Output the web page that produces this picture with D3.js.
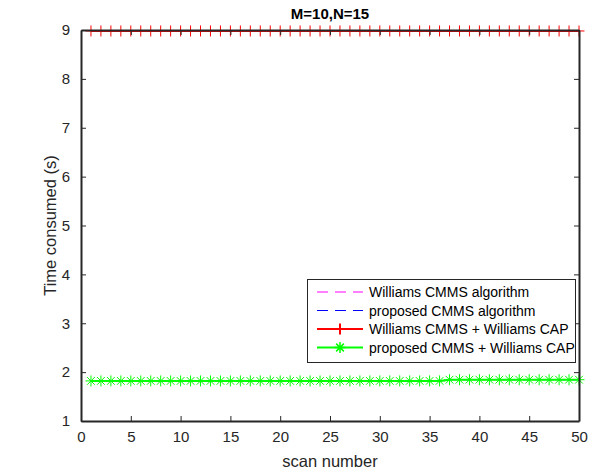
<!DOCTYPE html>
<html>
<head>
<meta charset="utf-8">
<script src="https://cdn.jsdelivr.net/npm/d3@7"></script>
<style>
  body { margin: 0; background: #fff; }
  text { font-family: Arial, "Liberation Sans", Helvetica, sans-serif; fill: #262626; }
</style>
</head>
<body>
<div id="chart"></div>
<script>
// chart values
const scans = d3.range(1, 51)
const williamsAlg = [8.98,8.98,8.98,8.98,8.98,8.98,8.98,8.98,8.98,8.98,
  8.98,8.98,8.98,8.98,8.98,8.98,8.98,8.98,8.98,8.98,
  8.98,8.98,8.98,8.98,8.98,8.98,8.98,8.98,8.98,8.98,
  8.98,8.98,8.98,8.98,8.98,8.98,8.98,8.98,8.98,8.98,
  8.98,8.98,8.98,8.98,8.98,8.98,8.98,8.98,8.98,8.98]
const proposedAlg = [1.82,1.82,1.82,1.82,1.82,1.82,1.82,1.82,1.82,1.82,
  1.82,1.82,1.82,1.82,1.82,1.82,1.82,1.82,1.82,1.82,
  1.82,1.82,1.82,1.82,1.82,1.82,1.82,1.82,1.82,1.82,
  1.82,1.82,1.82,1.82,1.82,1.82,1.845,1.845,1.845,1.845,
  1.845,1.845,1.845,1.845,1.845,1.845,1.845,1.845,1.845,1.845]
const williamsCap = [8.98,8.98,8.98,8.98,8.98,8.98,8.98,8.98,8.98,8.98,
  8.98,8.98,8.98,8.98,8.98,8.98,8.98,8.98,8.98,8.98,
  8.98,8.98,8.98,8.98,8.98,8.98,8.98,8.98,8.98,8.98,
  8.98,8.98,8.98,8.98,8.98,8.98,8.98,8.98,8.98,8.98,
  8.98,8.98,8.98,8.98,8.98,8.98,8.98,8.98,8.98,8.98]
const proposedCap = [1.82,1.82,1.82,1.82,1.82,1.82,1.82,1.82,1.82,1.82,
  1.82,1.82,1.82,1.82,1.82,1.82,1.82,1.82,1.82,1.82,
  1.82,1.82,1.82,1.82,1.82,1.82,1.82,1.82,1.82,1.82,
  1.82,1.82,1.82,1.82,1.82,1.82,1.845,1.845,1.845,1.845,
  1.845,1.845,1.845,1.845,1.845,1.845,1.845,1.845,1.845,1.845]
const xTicks = [0,5,10,15,20,25,30,35,40,45,50]
const yTicks = [1,2,3,4,5,6,7,8,9]
const legendNames = ["Williams CMMS algorithm", "proposed CMMS algorithm",
  "Williams CMMS + Williams CAP", "proposed CMMS + Williams CAP"]

const width = 596
const height = 472
const margin = {left: 81, right: 17, top: 30, bottom: 51}
const axisColor = "#262626"

const svg = d3.select("#chart")
  .append("svg")
    .attr("width", width)
    .attr("height", height)

const x = d3.scaleLinear().domain([0, 50]).range([margin.left, width - margin.right])
const y = d3.scaleLinear().domain([1, 9]).range([height - margin.bottom, margin.top])

const series = [
  {name: legendNames[0], values: williamsAlg, color: "#ff00ff", dash: "6,6", width: 1, marker: null},
  {name: legendNames[1], values: proposedAlg, color: "#0000ff", dash: "6,6", width: 1, marker: null},
  {name: legendNames[2], values: williamsCap, color: "#ff0000", dash: null, width: 2, marker: "plus"},
  {name: legendNames[3], values: proposedCap, color: "#00ff00", dash: null, width: 2, marker: "star"}
]

// marker paths centred at 0,0
function markerPath(type, s) {
  if (type === "plus") return `M${-s},0H${s}M0,${-s}V${s}`
  const d = s * 0.7
  return `M${-s},0H${s}M0,${-s}V${s}M${-d},${-d}L${d},${d}M${-d},${d}L${d},${-d}`
}

svg.append("clipPath").attr("id", "clip")
  .append("rect")
    .attr("x", margin.left).attr("y", margin.top - 8)
    .attr("width", x(50) - x(0) + 8).attr("height", y(1) - y(9) + 8)

const plot = svg.append("g").attr("clip-path", "url(#clip)")

const line = d3.line().x(d => x(d[0])).y(d => y(d[1]))

series.forEach(s => {
  const pts = scans.map((k, i) => [k, s.values[i]])
  plot.append("path")
    .datum(pts)
    .attr("d", line)
    .attr("fill", "none")
    .attr("stroke", s.color)
    .attr("stroke-width", s.width)
    .attr("stroke-dasharray", s.dash)
  if (s.marker) {
    plot.append("g").selectAll("path")
      .data(pts)
      .join("path")
        .attr("transform", d => `translate(${x(d[0])},${y(d[1])})`)
        .attr("d", markerPath(s.marker, 5.5))
        .attr("fill", "none")
        .attr("stroke", s.color)
        .attr("stroke-width", 1)
  }
})

// axes, MATLAB style: ticks inside, mirrored on top and right
const tickLen = 5
const axBottom = svg.append("g")
  .attr("transform", `translate(0,${y(1)})`)
  .call(d3.axisBottom(x).tickValues(xTicks).tickSizeInner(-tickLen).tickSizeOuter(0).tickPadding(10))
const axLeft = svg.append("g")
  .attr("transform", `translate(${x(0)},0)`)
  .call(d3.axisLeft(y).tickValues(yTicks).tickSizeInner(-tickLen).tickSizeOuter(0).tickPadding(11))
const axTop = svg.append("g")
  .attr("transform", `translate(0,${y(9)})`)
  .call(d3.axisTop(x).tickValues(xTicks).tickSizeInner(-tickLen).tickSizeOuter(0).tickFormat(""))
const axRight = svg.append("g")
  .attr("transform", `translate(${x(50)},0)`)
  .call(d3.axisRight(y).tickValues(yTicks).tickSizeInner(-tickLen).tickSizeOuter(0).tickFormat(""))

;[axBottom, axLeft, axTop, axRight].forEach(g => {
  g.select(".domain").attr("stroke", axisColor).attr("stroke-width", 2)
  g.selectAll(".tick line").attr("stroke", axisColor).attr("stroke-width", 1)
  g.selectAll(".tick text").attr("fill", axisColor).style("font-size", "15px")
    .style("font-family", "Arial, 'Liberation Sans', sans-serif")
})

// title and labels
svg.append("text")
  .attr("x", (x(0) + x(50)) / 2).attr("y", 19)
  .attr("text-anchor", "middle")
  .style("font-size", "15px").style("font-weight", "bold")
  .style("fill", "#000")
  .text("M=10,N=15")

svg.append("text")
  .attr("x", (x(0) + x(50)) / 2).attr("y", 467)
  .attr("text-anchor", "middle")
  .style("font-size", "16.5px")
  .text("scan number")

svg.append("text")
  .attr("transform", `translate(56,${(y(1) + y(9)) / 2}) rotate(-90)`)
  .attr("text-anchor", "middle")
  .style("font-size", "16.5px")
  .text("Time consumed (s)")

// legend
const legend = svg.append("g")
legend.append("rect")
  .attr("x", 307.5).attr("y", 279.5)
  .attr("width", 268).attr("height", 83)
  .attr("fill", "#fff")
  .attr("stroke", axisColor)
  .attr("stroke-width", 1)

series.forEach((s, i) => {
  const ly = 292 + i * 18.5
  legend.append("line")
    .attr("x1", 317).attr("x2", 363)
    .attr("y1", ly).attr("y2", ly)
    .attr("stroke", s.color)
    .attr("stroke-width", s.width)
    .attr("stroke-dasharray", s.dash ? "11,7" : null)
  if (s.marker) {
    legend.append("path")
      .attr("transform", `translate(340,${ly})`)
      .attr("d", markerPath(s.marker, 5.5))
      .attr("fill", "none")
      .attr("stroke", s.color)
      .attr("stroke-width", s.marker === "plus" ? 2 : 1.5)
  }
  legend.append("text")
    .attr("x", 369).attr("y", ly + 5)
    .style("font-size", "14px")
    .style("fill", "#000")
    .text(s.name)
})
</script>
</body>
</html>
